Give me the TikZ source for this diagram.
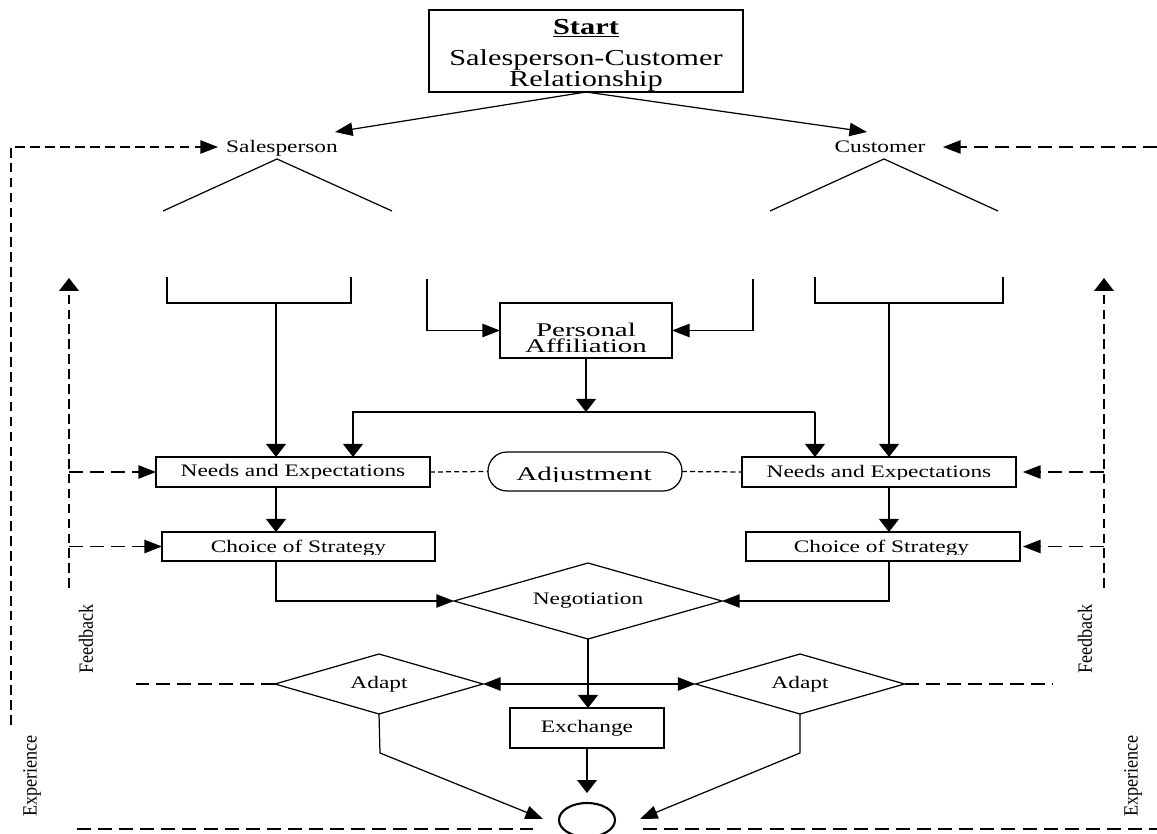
\documentclass[tikz,border=0pt]{standalone}
\usepackage{fontspec}
\setmainfont{Liberation Serif}[FakeStretch=1.33]
\newfontfamily\wideFont{Liberation Serif}[FakeStretch=1.5]
\newfontfamily\upfont{Liberation Serif}[FakeStretch=0.9]
\usetikzlibrary{arrows.meta,shapes.geometric,calc}
\newcommand\tightlines{\lineskiplimit=-20pt\relax}
\begin{document}
\begin{tikzpicture}[x=0.02cm, y=-0.02cm, line width=0.7pt,
  every node/.style={inner sep=0pt, outer sep=0pt},
  sm/.style={font=\fontsize{10}{12}\selectfont},
  lg/.style={font=\wideFont\fontsize{11}{8.6}\selectfont\tightlines},
  box/.style 2 args={draw, rectangle, minimum width=#1*0.02cm, minimum height=#2*0.02cm},
  dia/.style 2 args={draw, diamond, aspect=3.5, minimum width=#1*0.02cm, minimum height=#2*0.02cm},
  varr/.style={-{Triangle[length=7.4pt,width=11.3pt]}},
  harr/.style={-{Triangle[length=10pt,width=7.6pt]}},
  twoarr/.style={{Triangle[length=10pt,width=7.6pt]}-{Triangle[length=10pt,width=7.6pt]}},
  ldash/.style={dash pattern=on 8pt off 4pt},
  vdash/.style={dash pattern=on 5.5pt off 3pt},
  sdash/.style={dash pattern=on 2.8pt off 1.8pt},
  rot/.style={rotate=90, font=\upfont\fontsize{11.5}{13}\selectfont},
]
\clip (0,0) rectangle (1157,834);

% ---------- boxes and labels ----------
\node[box={314}{82}] (start) at (586,51) {};
\node[align=center, anchor=north, font=\fontsize{13}{11.9}\selectfont\tightlines]
  (starttxt) at (586,19)
  {\textbf{\underline{Start}}\\[6.2pt]Salesperson-Customer\\Relationship};

\node[sm, anchor=base] (sp) at (282,153) {Salesperson};
\node[sm, anchor=base] (cu) at (880,153) {Customer};

\node[box={172}{55}] (pa) at (586,330.5) {};
\node[lg, align=center, anchor=north] (patxt) at (586,323.5) {Personal\\Affiliation};

\node[box={274}{30}] (ne1) at (293,472) {};
\begin{scope}
  \clip (156,457) rectangle (430,478.5);
  \node[sm, anchor=base] (ne1t) at (293,477) {Needs and Expectations};
\end{scope}
\node[box={274}{30}] (ne2) at (879,472) {};
\begin{scope}
  \clip (742,457) rectangle (1016,479.5);
  \node[sm, anchor=base] (ne2t) at (879,478) {Needs and Expectations};
\end{scope}

\node[draw, rectangle, rounded corners=0.38cm, minimum width=194*0.02cm,
      minimum height=39*0.02cm] (adj) at (585,471.5) {};
\begin{scope}
  \clip (488,452) rectangle (682,481.3);
  \node[font=\wideFont\fontsize{11}{13}\selectfont, anchor=base] (adjt) at (584,481) {Adjustment};
\end{scope}

\node[box={273}{29}] (cs1) at (298.5,546.5) {};
\begin{scope}
  \clip (162,532) rectangle (435,554.5);
  \node[sm, anchor=base] (cs1t) at (298.5,553) {Choice of Strategy};
\end{scope}
\node[box={274}{29}] (cs2) at (883,546.5) {};
\begin{scope}
  \clip (746,532) rectangle (1020,554.5);
  \node[sm, anchor=base] (cs2t) at (881.5,553) {Choice of Strategy};
\end{scope}

\node[dia={268}{76}, sm] (neg) at (588,601) {Negotiation};
\node[dia={208}{60}, sm] (ad1) at (379,684) {Adapt};
\node[dia={209}{60}, sm] (ad2) at (800,684) {Adapt};
\node[box={154}{40}, sm] (ex) at (587,728) {Exchange};
\node[draw, ellipse, line width=1.2pt, minimum width=56*0.02cm,
      minimum height=34*0.02cm] (fin) at (587,820) {};

\node[rot] (fb1) at (86,639) {Feedback};
\node[rot] (fb2) at (1085,639) {Feedback};
\node[rot] (xp1) at (32,776) {Experience};
\node[rot] (xp2) at (1133,776) {Experience};

% ---------- split into the two parties ----------
\coordinate (spTip) at (335,132);
\coordinate (cuTip) at (867,132);
\draw[harr] (start.south) -- (spTip);
\draw[harr] (start.south) -- (cuTip);

\draw (163,211) -- (277,159) -- (392,211);
\draw (770,211) -- (884,159) -- (998,211);

% ---------- brackets ----------
\draw (167,277) -- (167,303) -- (351,303) -- (351,277);
\draw (815,277) -- (815,303) -- (1003,303) -- (1003,277);
\coordinate (bL) at (276,303);
\coordinate (bR) at (889,303);
\draw[varr] (bL) -- (bL |- ne1.north);
\draw[varr] (bR) -- (bR |- ne2.north);

\coordinate (mL) at (427,279);
\coordinate (mR) at (753,279);
\draw[harr] (mL) |- (pa.west);
\draw[harr] (mR) |- (pa.east);

% ---------- personal affiliation feeds both needs ----------
\coordinate (hL) at (353,412);
\coordinate (hR) at (815,412);
\draw[varr] (pa.south) -- (pa.south |- hL);
\draw[varr] (hR) -- (hL) -- (hL |- ne1.north);
\draw[varr] (hR) -- (hR |- ne2.north);

\draw[sdash] (ne1.east) -- (adj.west);
\draw[sdash] (adj.east) -- (ne2.west);

\draw[varr] (bL |- ne1.south) -- (bL |- cs1.north);
\draw[varr] (bR |- ne2.south) -- (bR |- cs2.north);

\draw[harr] (bL |- cs1.south) |- (neg.west);
\draw[harr] (bR |- cs2.south) |- (neg.east);

% ---------- negotiation, adaptation, exchange ----------
\draw[varr] (neg.south) -- (neg.south |- ex.north);
\draw[twoarr] (ad1.east) -- (ad2.west);
\coordinate (dL) at (136,684);
\coordinate (dR) at (1053,684);
\draw[ldash] (ad1.west) -- (dL);
\draw[ldash] (ad2.east) -- (dR);

\coordinate (k1) at (380,753);
\coordinate (t1) at (543,819);
\coordinate (k2) at (800,753);
\coordinate (t2) at (640,819);
\draw[harr] (ad1.south) -- (k1) -- (t1);
\draw[harr] (ad2.south) -- (k2) -- (t2);
\draw[varr, shorten >=0.2cm] (ex.south) -- (fin.north);

% ---------- feedback loops ----------
\coordinate (fL) at (69,588);
\coordinate (fLt) at (69,278);
\coordinate (fR) at (1104,588);
\coordinate (fRt) at (1104,278);
\draw[vdash, varr] (fL) -- (fLt);
\draw[vdash, varr] (fR) -- (fRt);
\draw[ldash, harr] (fL |- ne1.west) -- (ne1.west);
\draw[ldash, harr] (fL |- cs1.west) -- (cs1.west);
\draw[ldash, harr, shorten >=0.14cm] (fR |- ne2.east) -- (ne2.east);
\draw[ldash, harr, shorten >=0.06cm] (fR |- cs2.east) -- (cs2.east);

% ---------- experience loops ----------
\coordinate (oBL) at (11,725);
\coordinate (oTL) at (11,147);
\coordinate (spIn) at (218,147);
\coordinate (oTR) at (1157,147);
\coordinate (cuIn) at (943,147);
\draw[vdash, harr] (oBL) -- (oTL) -- (spIn);
\draw[ldash, harr] (oTR) -- (cuIn);
\draw[ldash] (77,829) -- (533,829);
\draw[ldash] (643,829) -- (1157,829);
\end{tikzpicture}
\end{document}
